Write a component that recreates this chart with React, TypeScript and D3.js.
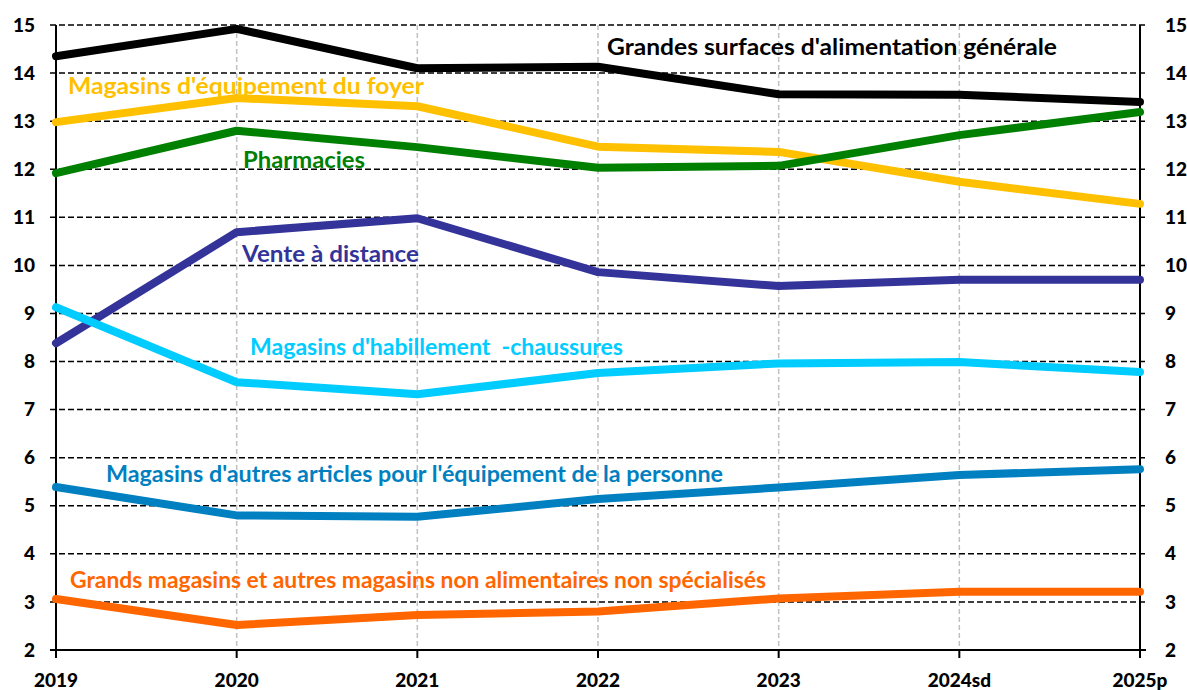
import * as d3 from 'd3';

const years = ['2019', '2020', '2021', '2022', '2023', '2024sd', '2025p'];
const yTicks = [2, 3, 4, 5, 6, 7, 8, 9, 10, 11, 12, 13, 14, 15];

const grandesSurfaces = [14.35, 14.92, 14.1, 14.13, 13.56, 13.55, 13.4];
const equipementFoyer = [12.98, 13.48, 13.31, 12.47, 12.36, 11.74, 11.28];
const pharmacies = [11.92, 12.8, 12.46, 12.03, 12.07, 12.71, 13.19];
const venteDistance = [8.38, 10.69, 10.98, 9.86, 9.57, 9.7, 9.7];
const habillement = [9.13, 7.57, 7.32, 7.76, 7.96, 7.99, 7.78];
const autresArticles = [5.39, 4.8, 4.77, 5.14, 5.38, 5.64, 5.76];
const grandsMagasins = [3.06, 2.52, 2.73, 2.8, 3.07, 3.21, 3.21];

interface Series {
  name: string;
  values: number[];
  color: string;
  // label position and measured width in the reference
  labelX: number;
  labelY: number;
  labelW: number;
}

const series: Series[] = [
  { name: 'Grands magasins et autres magasins non alimentaires non spécialisés', values: grandsMagasins, color: '#FF6600', labelX: 70, labelY: 588, labelW: 696 },
  { name: "Magasins d'autres articles pour l'équipement de la personne", values: autresArticles, color: '#0080C0', labelX: 106, labelY: 482, labelW: 617 },
  { name: 'Vente à distance', values: venteDistance, color: '#333399', labelX: 242, labelY: 262, labelW: 177 },
  { name: "Magasins d'habillement  -chaussures", values: habillement, color: '#00CCFF', labelX: 250, labelY: 355, labelW: 373 },
  { name: "Magasins d'équipement du foyer", values: equipementFoyer, color: '#FFC000', labelX: 68, labelY: 94, labelW: 356 },
  { name: 'Pharmacies', values: pharmacies, color: '#008000', labelX: 243, labelY: 168, labelW: 122 },
  { name: "Grandes surfaces d'alimentation générale", values: grandesSurfaces, color: '#000000', labelX: 607, labelY: 55, labelW: 450 },
];

const W = 1187;
const H = 690;
const left = 56;
const right = 1140;
const top = 25;
const bottom = 650;
const font = 'Lato, "Open Sans", sans-serif';

export default function App() {
  const x = d3.scalePoint<string>().domain(years).range([left, right]);
  const y = d3.scaleLinear().domain([2, 15]).range([bottom, top]);
  const line = d3.line<number>()
    .x((_, i) => x(years[i]) ?? 0)
    .y(d => y(d));

  return (
    <svg width={W} height={H} style={{ position: 'absolute', left: 0, top: 0, background: '#fff' }}>
      {/* vertical gridlines */}
      {years.slice(1, -1).map(yr => (
        <line key={yr} x1={x(yr)} x2={x(yr)} y1={top} y2={bottom}
          stroke="#c0c0c0" strokeWidth={1.5} strokeDasharray="5,3" />
      ))}
      {/* horizontal gridlines */}
      {yTicks.slice(1).map(t => (
        <line key={t} x1={left - 6} x2={right + 6} y1={y(t)} y2={y(t)}
          stroke="#000" strokeWidth={1.5} strokeDasharray="6,3" />
      ))}
      {/* axes */}
      <line x1={left} x2={left} y1={top} y2={bottom} stroke="#000" strokeWidth={2} />
      <line x1={right} x2={right} y1={top} y2={bottom} stroke="#000" strokeWidth={2} />
      <line x1={left - 6} x2={right + 6} y1={bottom} y2={bottom} stroke="#000" strokeWidth={2} />
      {years.map(yr => (
        <line key={yr} x1={x(yr)} x2={x(yr)} y1={bottom} y2={bottom + 8} stroke="#000" strokeWidth={2} />
      ))}
      {/* tick labels */}
      {yTicks.map(t => (
        <g key={t} fontFamily={font} fontWeight={900} fontSize={19}>
          <text x={35} y={y(t)} dy="0.35em" textAnchor="end">{t}</text>
          <text x={1165} y={y(t)} dy="0.35em" textAnchor="start">{t}</text>
        </g>
      ))}
      {years.map(yr => (
        <text key={yr} x={x(yr)} y={687} textAnchor="middle" fontFamily={font} fontWeight={900} fontSize={19}>{yr}</text>
      ))}
      {/* series */}
      {series.map(s => (
        <path key={s.name} d={line(s.values) ?? ''} fill="none" stroke={s.color}
          strokeWidth={8} strokeLinejoin="round" strokeLinecap="round" />
      ))}
      {series.map(s => (
        <text key={s.name + '-l'} x={s.labelX} y={s.labelY} fill={s.color}
          fontFamily={font} fontWeight={700} fontSize={23.5}
          textLength={s.labelW} lengthAdjust="spacingAndGlyphs" style={{ whiteSpace: 'pre' }}>
          {s.name}
        </text>
      ))}
    </svg>
  );
}
